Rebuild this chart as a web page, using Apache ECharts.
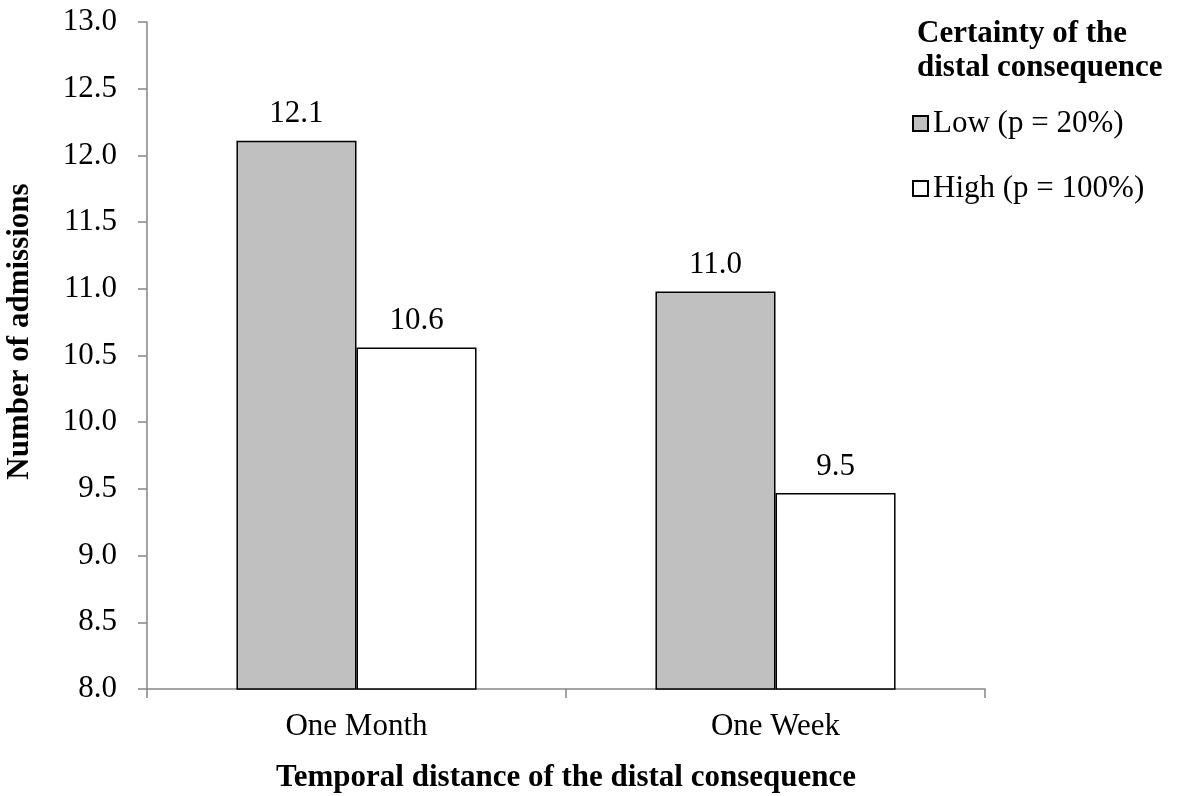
<!DOCTYPE html>
<html>
<head>
<meta charset="utf-8">
<script src="https://cdn.jsdelivr.net/npm/echarts@6/dist/echarts.min.js"></script>
<style>
  html, body { margin: 0; padding: 0; background: #fff; }
  #main { width: 1186px; height: 796px; }
</style>
</head>
<body>
<div id="main"></div>
<script>
const categories = ['One Month', 'One Week']
const lowValues = [12.11, 10.98]
const highValues = [10.56, 9.47]
const yTicks = { min: 8, max: 13, interval: 0.5 }

const font = 'Liberation Serif, Times New Roman, serif'
const axisGray = '#868686'
const fs = 31

const chart = echarts.init(document.getElementById('main'))

const barLabel = {
  show: true,
  position: 'top',
  distance: 11,
  color: '#000',
  fontFamily: font,
  fontSize: fs,
  formatter: p => p.value.toFixed(1)
}

chart.setOption({
  animation: false,
  textStyle: { fontFamily: font },
  title: {
    text: 'Certainty of the\ndistal consequence',
    left: 912,
    top: 12,
    textStyle: { fontFamily: font, fontSize: fs, fontWeight: 'bold', color: '#000', lineHeight: 34 }
  },
  legend: {
    orient: 'vertical',
    left: 907,
    top: 103,
    itemWidth: 15,
    itemHeight: 15,
    itemGap: 34,
    icon: 'rect',
    textStyle: { fontFamily: font, fontSize: fs, color: '#000' },
    data: ['Low (p = 20%)', 'High (p = 100%)']
  },
  grid: { left: 147, top: 22, right: 201, bottom: 107, containLabel: false, outerBoundsMode: 'none' },
  xAxis: {
    type: 'category',
    data: categories,
    name: 'Temporal distance of the distal consequence',
    nameLocation: 'middle',
    nameGap: 73,
    nameTextStyle: { fontFamily: font, fontSize: fs, fontWeight: 'bold', color: '#000' },
    axisLine: { lineStyle: { color: axisGray, width: 1.5 } },
    axisTick: { show: true, length: 9, lineStyle: { color: axisGray, width: 1.5 } },
    axisLabel: { color: '#000', fontFamily: font, fontSize: fs, margin: 22 }
  },
  yAxis: {
    type: 'value',
    min: yTicks.min,
    max: yTicks.max,
    interval: yTicks.interval,
    name: 'Number of admissions',
    nameLocation: 'middle',
    nameGap: 112,
    nameRotate: 90,
    nameTextStyle: { fontFamily: font, fontSize: fs, fontWeight: 'bold', color: '#000', padding: [0, 0, 0, 48] },
    splitLine: { show: false },
    axisLine: { show: true, lineStyle: { color: axisGray, width: 1.5 } },
    axisTick: { show: true, length: 9, lineStyle: { color: axisGray, width: 1.5 } },
    axisLabel: { color: '#000', fontFamily: font, fontSize: fs, margin: 30, formatter: v => v.toFixed(1) }
  },
  series: [
    {
      name: 'Low (p = 20%)',
      type: 'bar',
      data: lowValues,
      barGap: '0%',
      barCategoryGap: '42.7%',
      itemStyle: { color: '#c0c0c0', borderColor: '#000', borderWidth: 1.5 },
      label: barLabel
    },
    {
      name: 'High (p = 100%)',
      type: 'bar',
      data: highValues,
      itemStyle: { color: '#fff', borderColor: '#000', borderWidth: 1.5 },
      label: barLabel
    }
  ]
})
</script>
</body>
</html>
